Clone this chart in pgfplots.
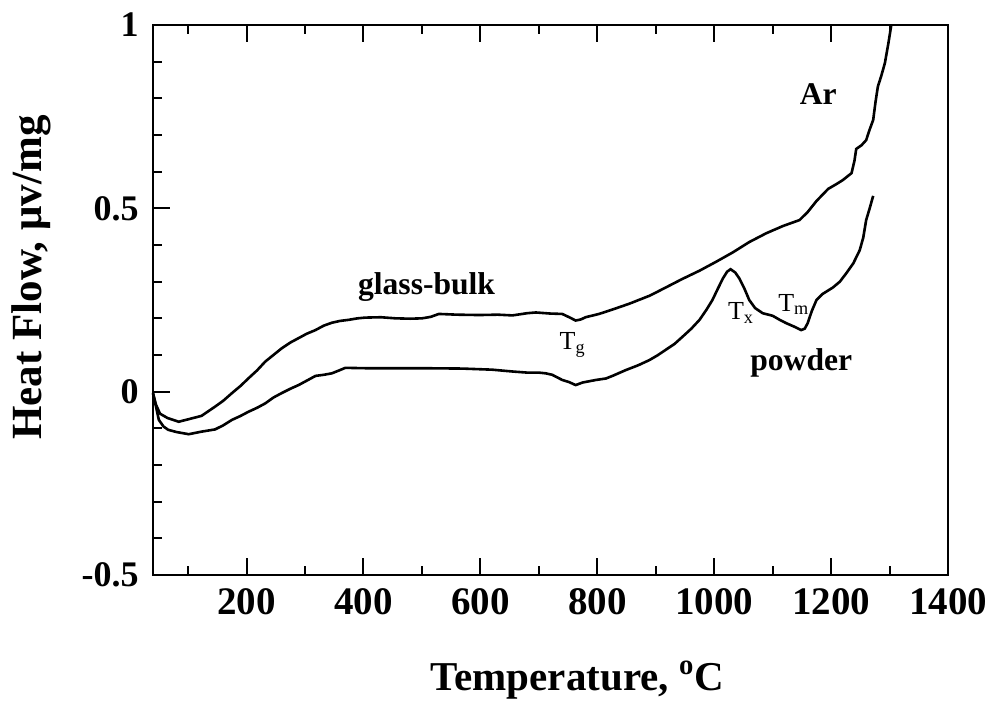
\documentclass[border=0pt]{standalone}
\usepackage{fontspec}
\setmainfont{Liberation Serif}
\usepackage{pgfplots}
\pgfplotsset{compat=1.18}
\pgfplotstableread{
T v
40 -0.005
45 -0.035
52 -0.060
65 -0.072
84 -0.082
106 -0.073
123 -0.066
146 -0.041
160 -0.025
175 -0.004
190 0.016
203 0.036
218 0.058
232 0.082
246 0.100
260 0.118
275 0.134
289 0.146
303 0.158
318 0.168
332 0.180
346 0.188
360 0.193
375 0.196
390 0.200
403 0.202
430 0.203
455 0.200
480 0.199
500 0.200
515 0.204
529 0.212
560 0.210
598 0.209
630 0.210
655 0.208
680 0.214
695 0.216
720 0.213
740 0.212
752 0.203
763 0.194
772 0.197
780 0.203
803 0.212
826 0.224
855 0.240
890 0.262
917 0.284
945 0.307
975 0.330
1003 0.354
1032 0.380
1060 0.408
1089 0.432
1118 0.452
1146 0.468
1160 0.490
1175 0.520
1195 0.553
1210 0.567
1220 0.577
1235 0.596
1240 0.630
1243 0.662
1252 0.672
1260 0.686
1266 0.715
1272 0.741
1276 0.790
1280 0.832
1286 0.862
1292 0.896
1298 0.950
1303 1.000
}\bulk
\pgfplotstableread{
T v
40 -0.003
45 -0.040
50 -0.077
58 -0.095
66 -0.104
80 -0.110
101 -0.116
123 -0.109
146 -0.103
160 -0.092
175 -0.077
190 -0.066
203 -0.055
218 -0.044
232 -0.032
246 -0.016
260 -0.004
275 0.008
289 0.018
303 0.030
318 0.043
332 0.046
346 0.050
360 0.059
369 0.065
403 0.064
455 0.064
500 0.064
569 0.063
620 0.060
655 0.055
680 0.052
700 0.052
712 0.050
723 0.046
740 0.032
752 0.026
763 0.018
775 0.025
798 0.032
815 0.036
826 0.043
849 0.059
870 0.072
889 0.086
903 0.099
917 0.114
932 0.130
946 0.150
961 0.172
975 0.196
987 0.224
997 0.250
1006 0.280
1015 0.309
1022 0.327
1028 0.334
1036 0.325
1043 0.309
1052 0.280
1060 0.250
1070 0.228
1083 0.214
1100 0.207
1112 0.196
1123 0.187
1136 0.178
1149 0.168
1155 0.172
1160 0.187
1167 0.220
1175 0.250
1185 0.266
1203 0.284
1215 0.300
1226 0.323
1238 0.350
1249 0.386
1255 0.420
1260 0.468
1266 0.500
1272 0.534
}\powder
\begin{document}
\begin{tikzpicture}
\begin{axis}[
  scale only axis, width=397.5pt, height=275pt,
  xmin=40, xmax=1400, ymin=-0.5, ymax=1,
  xtick={200,400,600,800,1000,1200,1400},
  xticklabels={200,400,600,800,1000,1200,1400},
  minor xtick={100,300,500,700,900,1100,1300},
  ytick={-0.5,0,0.5,1},
  yticklabels={-0.5,0,0.5,1},
  minor ytick={-0.4,-0.3,-0.2,-0.1,0.1,0.2,0.3,0.4,0.6,0.7,0.8,0.9},
  tick align=inside, xtick pos=both, ytick pos=left,
  major tick length=8.5pt, minor tick length=4.5pt,
  every tick/.style={black, line width=1pt},
  axis line style={line width=1pt},
  xticklabel style={font=\fontsize{19.5}{20}\selectfont\bfseries, inner sep=0pt, anchor=north, yshift=-6.5pt},
  yticklabel style={font=\fontsize{18}{19}\selectfont\bfseries, inner sep=0pt, anchor=east, xshift=-7pt},
  clip=false,
]
\addplot[black, line width=1.3pt, no markers] table[x=T, y=v] {\bulk};
\addplot[black, line width=1.3pt, no markers] table[x=T, y=v] {\powder};
\node[anchor=base, font=\fontsize{15.8}{16}\selectfont\bfseries] at (axis cs:508,0.264) {glass-bulk};
\node[anchor=base, font=\fontsize{15.8}{16}\selectfont\bfseries] at (axis cs:1178,0.782) {Ar};
\node[anchor=base, font=\fontsize{15.8}{16}\selectfont\bfseries] at (axis cs:1149,0.057) {powder};
\node[anchor=base west, inner sep=0pt, font=\fontsize{13}{14}\selectfont] at (axis cs:735,0.114) {T\textsubscript{g}};
\node[anchor=base west, inner sep=0pt, font=\fontsize{13}{14}\selectfont] at (axis cs:1023,0.197) {T\textsubscript{x}};
\node[anchor=base west, inner sep=0pt, font=\fontsize{13}{14}\selectfont] at (axis cs:1109,0.220) {T\textsubscript{m}};
\end{axis}
\node[anchor=base, inner sep=0pt, font=\fontsize{20.5}{21}\selectfont\bfseries] at ([shift={(212.25pt,-57.5pt)}]current axis.south west) {Temperature, \textsuperscript{o}C};
\node[anchor=base, rotate=90, inner sep=0pt, font=\fontsize{21.5}{22}\selectfont\bfseries] at ([shift={(-55.7pt,148.75pt)}]current axis.south west) {Heat Flow, μv/mg};
\pgfresetboundingbox
\path ([shift={(-76.5pt,-64pt)}]current axis.south west) rectangle ([shift={(24pt,12.5pt)}]current axis.north east);
\end{tikzpicture}
\end{document}
